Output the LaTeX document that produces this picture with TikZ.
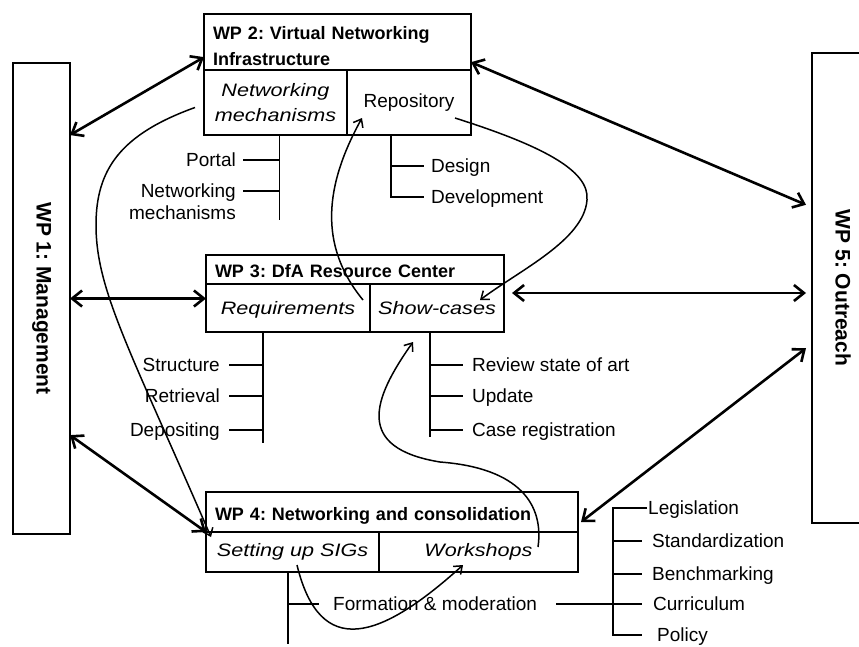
\documentclass[tikz,border=0pt]{standalone}
\usepackage{fontspec}
\setmainfont{Liberation Sans}
\newfontfamily\wideit[FakeStretch=1.2]{Liberation Sans}
\usetikzlibrary{arrows.meta,calc}
\frenchspacing

\tikzset{
  box/.style={draw,line width=2.6pt,inner sep=0pt,outer sep=0pt,anchor=north west},
  hdr/.style={box,font=\bfseries\fontsize{18}{26}\selectfont,align=left,inner xsep=9pt},
  cell/.style={box,font=\wideit\itshape\fontsize{18}{25}\selectfont,align=center},
  side/.style={draw,line width=2.6pt,inner sep=0pt,outer sep=0pt},
  sidetxt/.style={rotate=-90,inner sep=0pt,font=\bfseries\fontsize{21}{24}\selectfont},
  lbl/.style={inner sep=0pt,font=\fontsize{19}{22}\selectfont,text height=13.6pt,text depth=0pt},
  tree/.style={line width=1.1pt},
  link/.style={line width=2.6pt,{Straight Barb[length=10pt,width=16pt]}-{Straight Barb[length=10pt,width=16pt]}},
  flow/.style={line width=1.5pt,-{Straight Barb[length=7pt,width=11pt]}}
}

\begin{document}
\begin{tikzpicture}[x=1pt,y=1pt]
\useasboundingbox (0,0) rectangle (859,-646);
% side work packages
\node[side,minimum width=57pt,minimum height=471pt] (wp1) at (41.5,-298.5) {};
\node[sidetxt] (wp1t) at (wp1) {WP 1: Management};
\node[side,minimum width=63pt,minimum height=470pt] (wp5) at (843.5,-288) {};
\node[sidetxt] (wp5t) at (843,-288) {WP 5: Outreach};

% WP 2
\node[hdr,text width=249pt,minimum height=56pt,text height=20pt,text depth=26pt] (hd2) at (204,-14) {WP 2: Virtual Networking\\Infrastructure};
\node[cell,minimum width=143pt,minimum height=65pt] (net) at (204,-70) {Networking\\mechanisms};
\node[box,minimum width=124pt,minimum height=65pt,font=\fontsize{19}{22}\selectfont] (repo) at (347,-70) {Repository};

% WP 3
\node[hdr,text width=280pt,minimum height=29pt,text height=18pt,text depth=2pt] (hd3) at (206,-255) {WP 3: DfA Resource Center};
\node[cell,minimum width=164pt,minimum height=48pt,text height=15pt,text depth=3pt] (req) at (206,-284) {Requirements};
\node[cell,minimum width=134pt,minimum height=48pt,text height=15pt,text depth=3pt] (show) at (370,-284) {Show-cases};

% WP 4
\node[hdr,text width=354pt,minimum height=40pt,text height=18pt,text depth=2pt] (hd4) at (206,-492) {WP 4: Networking and consolidation};
\node[cell,minimum width=173pt,minimum height=40pt] (sig) at (206,-532) {Setting up SIGs};
\node[cell,minimum width=199pt,minimum height=40pt] (work) at (379,-532) {Workshops};

% items of WP 2
\coordinate (t2a) at ([xshift=4pt]net.south);
\draw[tree] (t2a) -- ++(0,-85);
\node[lbl,anchor=east] (portal) at (236,-160) {Portal};
\draw[tree] ([xshift=7pt]portal.east) -- (portal.east -| t2a);
\node[lbl,anchor=east,align=right] (netmech) at (236,-213) {Networking\\mechanisms};
\coordinate (nm) at ([shift={(7,22)}]netmech.east);
\draw[tree] (nm) -- (nm -| t2a);
\node[lbl,anchor=west] (design) at (431,-166) {Design};
\node[lbl,anchor=west] (devel) at (431,-197) {Development};
\coordinate (t2b) at ([xshift=44pt]repo.south west);
\draw[tree] (t2b) |- ([xshift=-7pt]devel.west);
\draw[tree] (design.west -| t2b) -- ([xshift=-7pt]design.west);

% items of WP 3
\coordinate (t3a) at ([xshift=57pt]req.south west);
\draw[tree] (t3a) -- ++(0,-111);
\foreach \n/\t/\y in {str/Structure/365,ret/Retrieval/396,dep/Depositing/430}{
  \node[lbl,anchor=east] (\n) at (220,-\y) {\t};
  \draw[tree] ([xshift=9pt]\n.east) -- (\n.east -| t3a);
}
\coordinate (t3b) at ([xshift=60pt]show.south west);
\draw[tree] (t3b) -- ++(0,-105);
\foreach \n/\t/\y in {rev/Review state of art/365,upd/Update/396,reg/Case registration/430}{
  \node[lbl,anchor=west] (\n) at (472,-\y) {\t};
  \draw[tree] (\n.west -| t3b) -- ([xshift=-9pt]\n.west);
}

% items of WP 4
\coordinate (t4) at ([xshift=82pt]sig.south west);
\draw[tree] (t4) -- ++(0,-72);
\node[lbl,anchor=west] (form) at (333,-604) {Formation \& moderation};
\draw[tree] (form.west -| t4) -- ([xshift=-14pt]form.west);
\node[lbl,anchor=west] (leg) at (648,-508) {Legislation};
\node[lbl,anchor=west] (std) at (652,-541) {Standardization};
\node[lbl,anchor=west] (bench) at (652,-574) {Benchmarking};
\node[lbl,anchor=west] (cur) at (653,-604) {Curriculum};
\node[lbl,anchor=west] (pol) at (657,-635) {Policy};
\coordinate (t4b) at ([xshift=-35pt]leg.west);
\draw[tree] ([xshift=-1pt]leg.west) -| (pol.west -| t4b) -- ([xshift=-15pt]pol.west);
\foreach \n in {std,bench} \draw[tree] (\n.west -| t4b) -- ([xshift=-10pt]\n.west);
\draw[tree] ([xshift=19pt]form.east) -- ([xshift=-11pt]cur.west);

% links between work packages
\draw[link] ($(wp1.north east)!.153!(wp1.south east)$) -- ($(hd2.north west)!.77!(hd2.south west)$);
\draw[link] ($(hd2.north east)!.86!(hd2.south east)$) -- ($(wp5.north west)!.323!(wp5.south west)+(-6,0)$);
\draw[link] (wp1.east) -- (wp1.east -| req.west);
\coordinate (s3) at ($(show.north east)+(8,-9)$);
\draw[link] (s3) -- ($(s3 -| wp5.west)+(-6,0)$);
\draw[link] ($(wp1.north east)!.79!(wp1.south east)$) -- (hd4.south west);
\draw[link] ($(wp5.north west)!.628!(wp5.south west)+(-6,0)$) -- ($(hd4.south east)+(3,10)$);

% flows between tasks
\draw[flow] ([shift={(-9,-5)}]net.west) .. controls +(-75,-27) and +(0,55) .. (96,-225)
  .. controls +(0,-65) and +(-81,187) .. ([shift={(5,-5)}]sig.north west);
\draw[flow] ([shift={(-7,-16)}]req.north east) .. controls +(-45,55) and +(-37,-67) .. ([shift={(15,-48)}]repo.north west);
\draw[flow] ([shift={(-16,-48)}]repo.north east) .. controls +(85,-27) and +(3,30) .. (587,-200)
  .. controls +(-3,-40) and +(40,30) .. ([shift={(-24,-16)}]show.north east);
\draw[flow] ([shift={(-40,-15)}]work.north east) .. controls +(6,42) and +(80,-6) .. (440,-462)
  .. controls +(-85,14) and +(-41,-58) .. ([shift={(43,-10)}]show.south west);
\draw[flow] ([shift={(91,7)}]sig.south west) .. controls +(23,-95) and +(-83,-75) .. ([shift={(84,7)}]work.south west);
\end{tikzpicture}
\end{document}
